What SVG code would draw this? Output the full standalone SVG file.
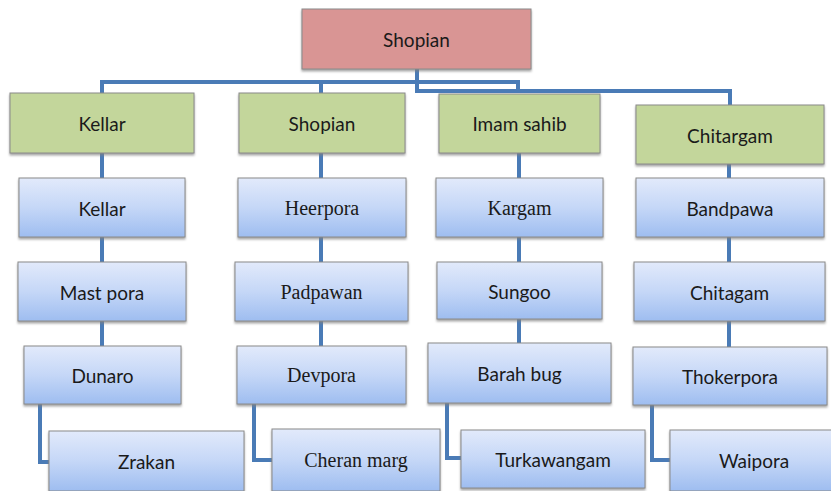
<svg xmlns="http://www.w3.org/2000/svg" width="831" height="491" viewBox="0 0 831 491">
<defs>
<linearGradient id="blue" x1="0" y1="0" x2="0" y2="1">
<stop offset="0" stop-color="#e2eafb"/>
<stop offset="0.5" stop-color="#c5d7f7"/>
<stop offset="1" stop-color="#9ebdf0"/>
</linearGradient>
<filter id="sh" x="-5%" y="-5%" width="110%" height="120%">
<feDropShadow dx="0" dy="2" stdDeviation="1" flood-color="#808080" flood-opacity="0.7"/>
</filter>
</defs>
<style>
rect{stroke:#8a8a8a;stroke-width:1;filter:url(#sh)}
.root{fill:#d99594}
.g{fill:#c3d69b}
.b{fill:url(#blue)}
text{font-family:"Lato","Open Sans","Liberation Sans",sans-serif;font-size:19px;fill:#1a1a1a;text-anchor:middle;dominant-baseline:central}
text.s{font-family:"Liberation Serif",serif;font-size:20px}
#connectors path{fill:none;stroke:#4a7bb6;stroke-width:4;stroke-linejoin:miter}
</style>
<g id="connectors">
<path d="M417 69V91H730V105"/>
<path d="M102 93V82H518V91"/>
<path d="M321 82V93"/>
<path d="M102 153V178M102 237V262M102 321V346"/>
<path d="M321 153V178M321 237V262M321 321V346"/>
<path d="M519 153V178M519 237V262M519 319V343"/>
<path d="M729 164V178M729 237V262M729 321V347"/>
<path d="M40 404V462H49"/>
<path d="M254 404V460H272"/>
<path d="M447 403V458H461"/>
<path d="M652 405V460H670"/>
</g>
<g id="root"><rect class="root" x="302" y="9" width="229" height="60"/><text x="416.5" y="39">Shopian</text></g>
<g id="kellar"><rect class="g" x="10" y="93" width="184" height="60"/><text x="102" y="123">Kellar</text></g>
<g id="shopian"><rect class="g" x="239" y="93" width="166" height="60"/><text x="322" y="123">Shopian</text></g>
<g id="imamsahib"><rect class="g" x="439" y="94" width="161" height="59"/><text x="519.5" y="123">Imam sahib</text></g>
<g id="chitargam"><rect class="g" x="636" y="105" width="188" height="59"/><text x="730" y="135">Chitargam</text></g>
<g id="kellar2"><rect class="b" x="19" y="178" width="166" height="59"/><text x="102" y="208">Kellar</text></g>
<g id="heerpora"><rect class="b" x="238" y="178" width="168" height="59"/><text class="s" x="322" y="208">Heerpora</text></g>
<g id="kargam"><rect class="b" x="436" y="178" width="167" height="59"/><text class="s" x="519.5" y="208">Kargam</text></g>
<g id="bandpawa"><rect class="b" x="636" y="178" width="188" height="59"/><text x="730" y="208">Bandpawa</text></g>
<g id="mastpora"><rect class="b" x="18" y="262" width="168" height="59"/><text x="102" y="292">Mast pora</text></g>
<g id="padpawan"><rect class="b" x="235" y="262" width="173" height="59"/><text class="s" x="321.5" y="292">Padpawan</text></g>
<g id="sungoo"><rect class="b" x="437" y="262" width="165" height="57"/><text x="519.5" y="291">Sungoo</text></g>
<g id="chitagam"><rect class="b" x="634" y="262" width="191" height="59"/><text x="729.5" y="292">Chitagam</text></g>
<g id="dunaro"><rect class="b" x="24" y="346" width="157" height="58"/><text x="102.5" y="375">Dunaro</text></g>
<g id="devpora"><rect class="b" x="237" y="346" width="169" height="58"/><text class="s" x="321.5" y="375">Devpora</text></g>
<g id="barahbug"><rect class="b" x="428" y="343" width="183" height="60"/><text x="519.5" y="373">Barah bug</text></g>
<g id="thokerpora"><rect class="b" x="633" y="347" width="194" height="58"/><text x="730" y="376">Thokerpora</text></g>
<g id="zrakan"><rect class="b" x="49" y="431" width="195" height="60"/><text x="146.5" y="461">Zrakan</text></g>
<g id="cheranmarg"><rect class="b" x="272" y="429" width="168" height="62"/><text class="s" x="356" y="460">Cheran marg</text></g>
<g id="turkawangam"><rect class="b" x="461" y="430" width="184" height="58"/><text x="553" y="459">Turkawangam</text></g>
<g id="waipora"><rect class="b" x="670" y="430" width="165" height="61"/><text x="754" y="460">Waipora</text></g>
</svg>
